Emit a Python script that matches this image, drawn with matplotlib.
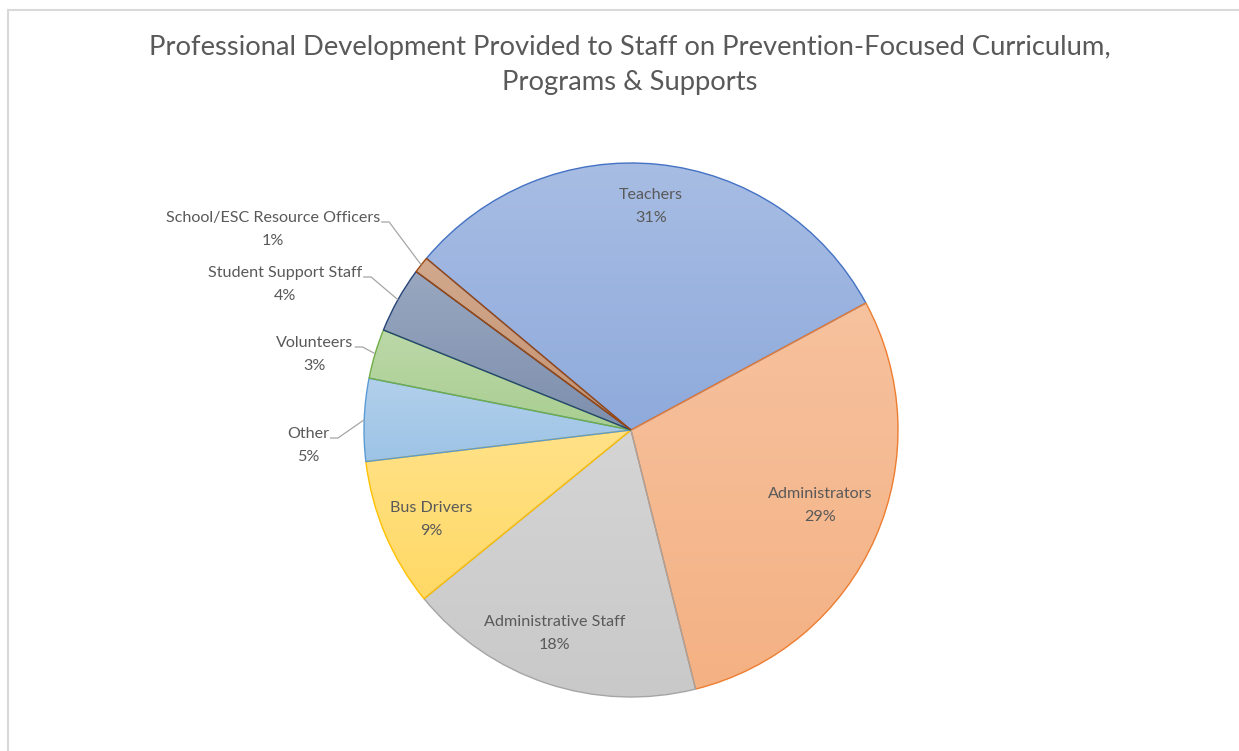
import numpy as np
import matplotlib
matplotlib.use("Agg")
import matplotlib.pyplot as plt
from matplotlib.colors import to_rgb
from matplotlib.lines import Line2D

# ---- data ----
categories = ["Teachers", "Administrators", "Administrative Staff", "Bus Drivers",
              "Other", "Volunteers", "Student Support Staff",
              "School/ESC Resource Officers"]
shares = [31, 29, 18, 9, 5, 3, 4, 1]
base_colors = ["#4472C4", "#ED7D31", "#A5A5A5", "#FFC000",
               "#5B9BD5", "#70AD47", "#264478", "#9E480E"]

title_lines = ["Professional Development Provided to Staff on Prevention-Focused Curriculum,",
               "Programs & Supports"]

# ---- layout (pixel space, y measured from top) ----
W, H = 1239, 751
CX, CY, R = 631, 430, 267
# label centres: (x, y of the name line)
label_xy = [(651, 195), (820, 494), (555, 622), (431, 508),
            (308, 434), (315, 343), (285, 273), (273, 218)]
outside = [False, False, False, False, True, True, True, True]
title_y = [45, 80]
text_color = "#595959"
font = "Lato"

fig = plt.figure(figsize=(W / 100, H / 100), dpi=100)
ax = fig.add_axes([0, 0, 1, 1])


def py(y):
    return H - y


wedges, _ = ax.pie(shares, center=(CX, py(CY)), radius=R, startangle=140,
                   counterclock=False, frame=True,
                   wedgeprops=dict(linewidth=1.0))

for w, col in zip(wedges, base_colors):
    rgb = np.array(to_rgb(col))
    w.set_edgecolor(col)
    w.set_facecolor("none")
    w.set_zorder(3)
    # vertical gradient over the wedge's own extent
    th = np.radians(np.linspace(w.theta1, w.theta2, 200))
    xs = np.concatenate([[CX], CX + R * np.cos(th)])
    ys = np.concatenate([[py(CY)], py(CY) + R * np.sin(th)])
    x0, x1, y0, y1 = xs.min(), xs.max(), ys.min(), ys.max()
    a = np.linspace(0.47, 0.6, 256)[:, None]  # top -> bottom
    grad = 1 - a[:, :, None] * (1 - rgb[None, None, :])
    grad = np.repeat(grad, 2, axis=1)
    im = ax.imshow(grad, extent=(x0, x1, y0, y1), origin="upper",
                   aspect="auto", interpolation="bilinear", zorder=2)
    im.set_clip_path(w)

ax.set_xlim(0, W)
ax.set_ylim(0, H)
ax.set_aspect("equal")
ax.axis("off")

# chart area border (left and top edges visible)
fig.add_artist(Line2D([7.5 / W, 7.5 / W], [0, 1 - 9.5 / H], color="#d9d9d9", lw=1.5,
                      transform=fig.transFigure))
fig.add_artist(Line2D([7.5 / W, 1], [1 - 9.5 / H, 1 - 9.5 / H], color="#d9d9d9", lw=1.5,
                      transform=fig.transFigure))

for line, ty in zip(title_lines, title_y):
    ax.text(630, py(ty), line, ha="center", va="center_baseline", fontsize=19.7,
            color=text_color, family=font)

fig.canvas.draw()
renderer = fig.canvas.get_renderer()
for w, name, val, (lx, ly), out in zip(wedges, categories, shares, label_xy, outside):
    t = ax.text(lx, py(ly), name, ha="center", va="center", fontsize=11.6,
                color=text_color, family=font, zorder=5)
    ax.text(lx, py(ly + 23), f"{val}%", ha="center", va="center", fontsize=11.6,
            color=text_color, family=font, zorder=5)
    if out:
        bb = t.get_window_extent(renderer).transformed(ax.transData.inverted())
        mid = np.radians((w.theta1 + w.theta2) / 2)
        ex, ey = CX + R * np.cos(mid), py(CY) + R * np.sin(mid)
        yl = py(ly + 4)
        ax.plot([bb.x1 + 1, bb.x1 + 9, ex], [yl, yl, ey], color="#a6a6a6",
                lw=0.9, zorder=4, solid_capstyle="butt")

fig.savefig("out.png", dpi=100, facecolor="white")
